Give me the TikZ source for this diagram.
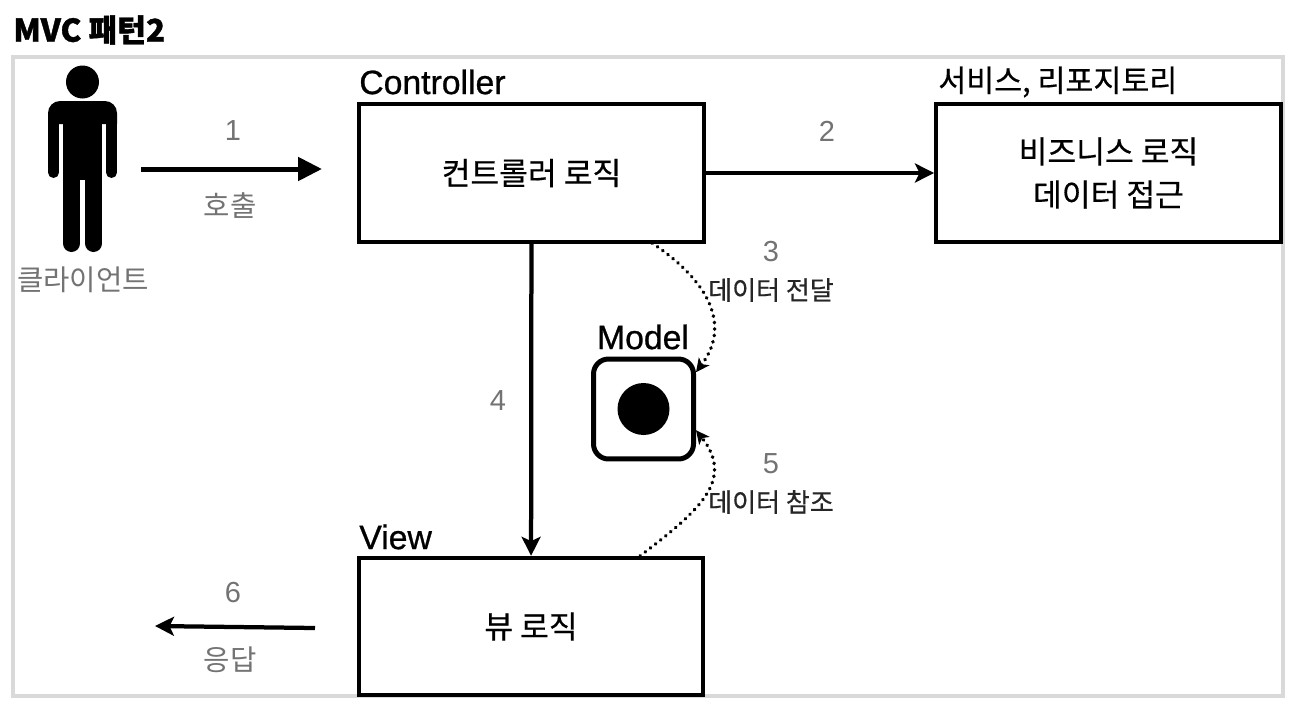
\documentclass[tikz,border=0pt]{standalone}
\usepackage{fontspec}
\setmainfont{Liberation Sans}
\newfontfamily\krfont{Noto Sans CJK KR}
\newfontfamily\krblack[FakeBold=1.2]{Noto Sans CJK KR Black}
\newfontfamily\headfont[FakeBold=0.8]{Liberation Sans}
\newfontfamily\krhead[FakeBold=0.5]{Noto Sans CJK KR}
\usetikzlibrary{arrows.meta}
\newcommand*{\NumLabels}[1]{% #1 = list of x/y/text
  \foreach \x/\y/\text in {#1} {
    \node [numlabel] (num\text) at (\x,\y) {\text};
    }%
}
\tikzset{
  box/.style={draw=black, line width=0.08cm, fill=white, minimum width=6.9cm, minimum height=2.75cm, font=\krhead\fontsize{17.8}{24.5}\selectfont, align=center},
  numlabel/.style={text=black!55, font=\fontsize{16.5}{18}\selectfont},
  graylabel/.style={text=black!55, font=\krfont\fontsize{16.3}{18}\selectfont},
  smalllabel/.style={text=black!85, font=\krhead\fontsize{14.8}{16}\selectfont},
  headlabel/.style={text=black, font=\headfont\fontsize{19.2}{22}\selectfont},
  link/.style={line width=0.085cm, -{Stealth[length=0.38cm,width=0.38cm,inset=0.09cm]}},
  dotlink/.style={line width=0.07cm, line cap=round, dash pattern=on 0.01cm off 0.12cm, -{Stealth[length=0.27cm,width=0.26cm,inset=0.07cm]}},
}

\begin{document}
\begin{tikzpicture}[x=0.02cm,y=-0.02cm]
    \useasboundingbox (0,0) rectangle (1294,710);
    \fill[white] (0,0) rectangle (1294,710);
    \node [anchor=west, inner sep=0pt, font=\krblack\fontsize{17.8}{20}\selectfont] (title) at (13,30) {MVC 패턴2};
    \draw[black!15, line width=0.07cm] (13,57) rectangle (1283,696);

    % client figure
    \begin{scope}[local bounding box=client]
        \fill (82.5,82) circle (16.5);
        \fill (48,124) [rounded corners=0.24cm] -- (48,101) -- (117,101) [sharp corners] -- (117,124) -- cycle;
        \fill (63,120) rectangle (102,180);
        \draw[line width=0.22cm, line cap=round] (53.5,120) -- (53.5,172.5);
        \draw[line width=0.22cm, line cap=round] (111.5,120) -- (111.5,172.5);
        \draw[line width=0.34cm, line cap=round] (71.5,170) -- (71.5,243.5);
        \draw[line width=0.34cm, line cap=round] (93.5,170) -- (93.5,243.5);
    \end{scope}
    \node [graylabel] (clientname) at (83,280) {클라이언트};

    % boxes
    \node [box] (controller) at (531.5,173) {컨트롤러 로직};
    \node [box] (service) at (1108.5,173) {비즈니스 로직\\데이터 접근};
    \node [box] (view) at (531,626.5) {뷰 로직};
    \node [draw=black, line width=0.1cm, rounded corners=0.3cm, fill=white, minimum size=2cm] (model) at (643.5,409) {};
    \node [fill=black, circle, inner sep=0pt, minimum size=1.04cm] (modeldot) at (model.center) {};

    \node [headlabel, anchor=west, inner sep=0pt] (controllername) at (359,82) {Controller};
    \node [headlabel, anchor=west, inner sep=0pt, font=\krhead\fontsize{17.3}{20}\selectfont] (servicename) at (938,82) {서비스, 리포지토리};
    \node [headlabel, anchor=west, inner sep=0pt] (viewname) at (359,537) {View};
    \node [headlabel, inner sep=0pt] (modelname) at (643,337) {Model};

    % connectors
    \coordinate (callstart) at (141,169);
    \coordinate (callend) at (322,169);
    \coordinate (replystart) at (315,628);
    \coordinate (replyend) at (155,626);
    \coordinate (passstart) at (652,243);
    \coordinate (readstart) at (640,556);
    \draw[line width=0.1cm, -{Triangle[length=0.48cm,width=0.46cm]}] (callstart) -- (callend);
    \draw[link] (controller) -- (service);
    \draw[link] (controller) -- (view);
    \draw[link] (replystart) -- (replyend);
    \draw[dotlink] (passstart) .. controls (700,275) and (735,320) .. (model.35);
    \draw[dotlink] (readstart) .. controls (700,510) and (735,480) .. (model.-22);

    \NumLabels{233/131/1,827/131/2,771/252/3,498/401/4,771/464/5,233/593/6}
    \node [graylabel] (calllabel) at (230,206) {호출};
    \node [graylabel] (replylabel) at (230,660) {응답};
    \node [smalllabel] (passlabel) at (771,290) {데이터 전달};
    \node [smalllabel] (readlabel) at (771,502) {데이터 참조};
\end{tikzpicture}
\end{document}
